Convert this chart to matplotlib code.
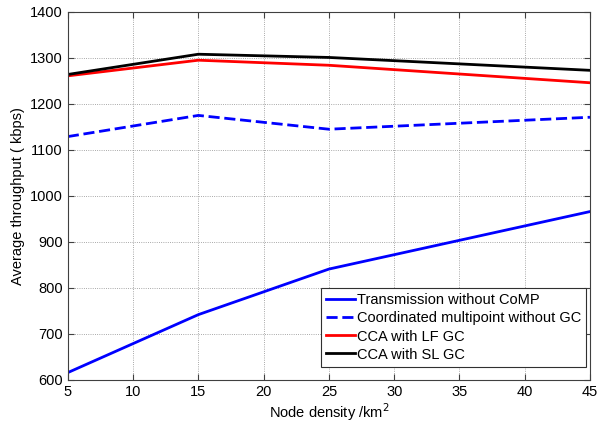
import matplotlib
matplotlib.use("Agg")
import matplotlib.pyplot as plt

plt.rcParams['font.family'] = ['Liberation Sans', 'DejaVu Sans']

# node density (per km^2)
density = [5, 15, 25, 45]

# average throughput (kbps)
no_comp = [616, 742, 841, 966]
comp_no_gc = [1129, 1175, 1145, 1171]
cca_lf_gc = [1261, 1295, 1284, 1246]
cca_sl_gc = [1264, 1308, 1301, 1273]

labels = ['Transmission without CoMP', 'Coordinated multipoint without GC',
          'CCA with LF GC', 'CCA with SL GC']

fs = 10.5

fig = plt.figure(figsize=(6.11, 4.25), dpi=100)
ax = fig.add_axes([0.111, 0.106, 0.8546, 0.866])

ax.plot(density, no_comp, color='#0000ff', lw=2, label=labels[0])
ax.plot(density, comp_no_gc, color='#0000ff', lw=2, ls=(0, (4, 1.7)), label=labels[1])
ax.plot(density, cca_lf_gc, color='#ff0000', lw=2, label=labels[2])
ax.plot(density, cca_sl_gc, color='black', lw=2, label=labels[3])

ax.set_xlim(5, 45)
ax.set_ylim(600, 1400)
ax.set_xticks(range(5, 46, 5))
ax.set_yticks(range(600, 1401, 100))
ax.grid(True, color='#8c8c8c', ls=':', lw=0.6)
ax.tick_params(direction='in', labelsize=fs, length=4, top=True, right=True,
               color='#404040')
for s in ax.spines.values():
    s.set_color('#404040')

ax.set_xlabel('Node density /km$^2$', fontsize=fs, labelpad=2)
ax.set_ylabel('Average throughput ( kbps)', fontsize=fs, labelpad=4)

leg = ax.legend(loc='lower right', bbox_to_anchor=(0.993, 0.036), borderaxespad=0,
                fontsize=fs, handlelength=2.0, handletextpad=0.15, labelspacing=0.28,
                fancybox=False, edgecolor='#303030', framealpha=1, borderpad=0.35)
leg.get_frame().set_linewidth(0.8)

fig.savefig('out.png', dpi=100)
